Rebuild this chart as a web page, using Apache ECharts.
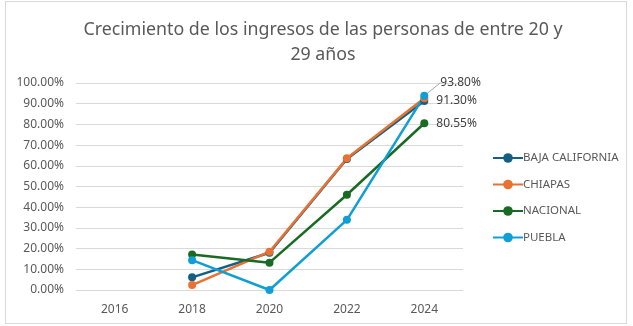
<!DOCTYPE html>
<html>
<head>
<meta charset="utf-8">
<script src="https://cdn.jsdelivr.net/npm/echarts@6/dist/echarts.min.js"></script>
<style>
  html, body { margin: 0; padding: 0; background: #fff; }
  #frame { position: absolute; left: 5px; top: 1px; width: 622px; height: 323px; border: 1px solid #d9d9d9; box-sizing: border-box; }
  #chart { position: absolute; left: 0; top: 0; width: 633px; height: 326px; }
</style>
</head>
<body>
<div id="frame"></div>
<div id="chart"></div>
<script>
// Years on the horizontal axis
const years = ['2016', '2018', '2020', '2022', '2024'];

// Income growth (%) for people aged 20 to 29
const bajaCalifornia = [null, 6.1, 18.0, 63.3, 91.30];
const chiapas        = [null, 2.4, 18.5, 63.6, 92.6];
const nacional       = [null, 17.1, 13.2, 46.0, 80.55];
const puebla         = [null, 14.4, 0.0, 33.9, 93.80];

const yTicks = { min: 0, max: 100, interval: 10 };

const textColor = '#595959';
const font = 'Noto Sans';

// Only the last point of a labelled series carries a value label
function buildData(values, labelled, leader) {
  return values.map(function (v, i) {
    if (!labelled || i !== values.length - 1) return v;
    const item = {
      value: v,
      label: {
        show: true,
        position: 'right',
        distance: 8,
        color: '#404040',
        fontFamily: font,
        fontSize: 12,
        formatter: function (p) { return p.value.toFixed(2) + '%'; }
      }
    };
    if (leader) {
      item.labelLine = { show: true, lineStyle: { color: '#a6a6a6', width: 1 } };
    }
    return item;
  });
}

function makeSeries(name, values, color, labelled, dy) {
  const s = {
    name: name,
    type: 'line',
    data: buildData(values, labelled, !!dy),
    connectNulls: false,
    symbol: 'circle',
    symbolSize: 8,
    lineStyle: { width: 2.5, color: color },
    itemStyle: { color: color },
    label: { show: false },
    labelLine: { show: false }
  };
  if (dy) {
    s.labelLayout = function (params) {
      if (params.dataIndex !== values.length - 1) return {};
      return { dx: 4, dy: dy };
    };
  }
  return s;
}

const chart = echarts.init(document.getElementById('chart'));
chart.setOption({
  backgroundColor: 'transparent',
  animation: false,
  title: {
    text: 'Crecimiento de los ingresos de las personas de entre 20 y\n29 años',
    left: 318,
    textAlign: 'center',
    top: 12,
    textStyle: { fontFamily: font, fontSize: 17.8, fontWeight: 'normal', color: textColor, lineHeight: 25 }
  },
  grid: { left: 76, right: 170, top: 83, bottom: 36 },
  legend: {
    orient: 'vertical',
    left: 487,
    top: 147,
    itemWidth: 30,
    itemHeight: 12,
    itemGap: 14.5,
    textStyle: { fontFamily: font, fontSize: 11.5, color: textColor, padding: [0, 0, 0, -5] },
    data: ['BAJA CALIFORNIA', 'CHIAPAS', 'NACIONAL', 'PUEBLA']
  },
  xAxis: {
    type: 'category',
    data: years,
    boundaryGap: true,
    axisLine: { show: false },
    axisTick: { show: false },
    axisLabel: { fontFamily: font, fontSize: 12, color: textColor, margin: 14 }
  },
  yAxis: {
    type: 'value',
    min: yTicks.min,
    max: yTicks.max,
    interval: yTicks.interval,
    axisLine: { show: false },
    axisTick: { show: false },
    splitLine: { lineStyle: { color: '#d9d9d9', width: 1 } },
    axisLabel: {
      fontFamily: font, fontSize: 12, color: textColor, margin: 12,
      formatter: function (v) { return v.toFixed(2) + '%'; }
    }
  },
  series: [
    makeSeries('BAJA CALIFORNIA', bajaCalifornia, '#156082', true, 0),
    makeSeries('CHIAPAS', chiapas, '#E97132', false, 0),
    makeSeries('NACIONAL', nacional, '#196B24', true, 0),
    makeSeries('PUEBLA', puebla, '#0F9ED5', true, -13)
  ]
});
</script>
</body>
</html>
